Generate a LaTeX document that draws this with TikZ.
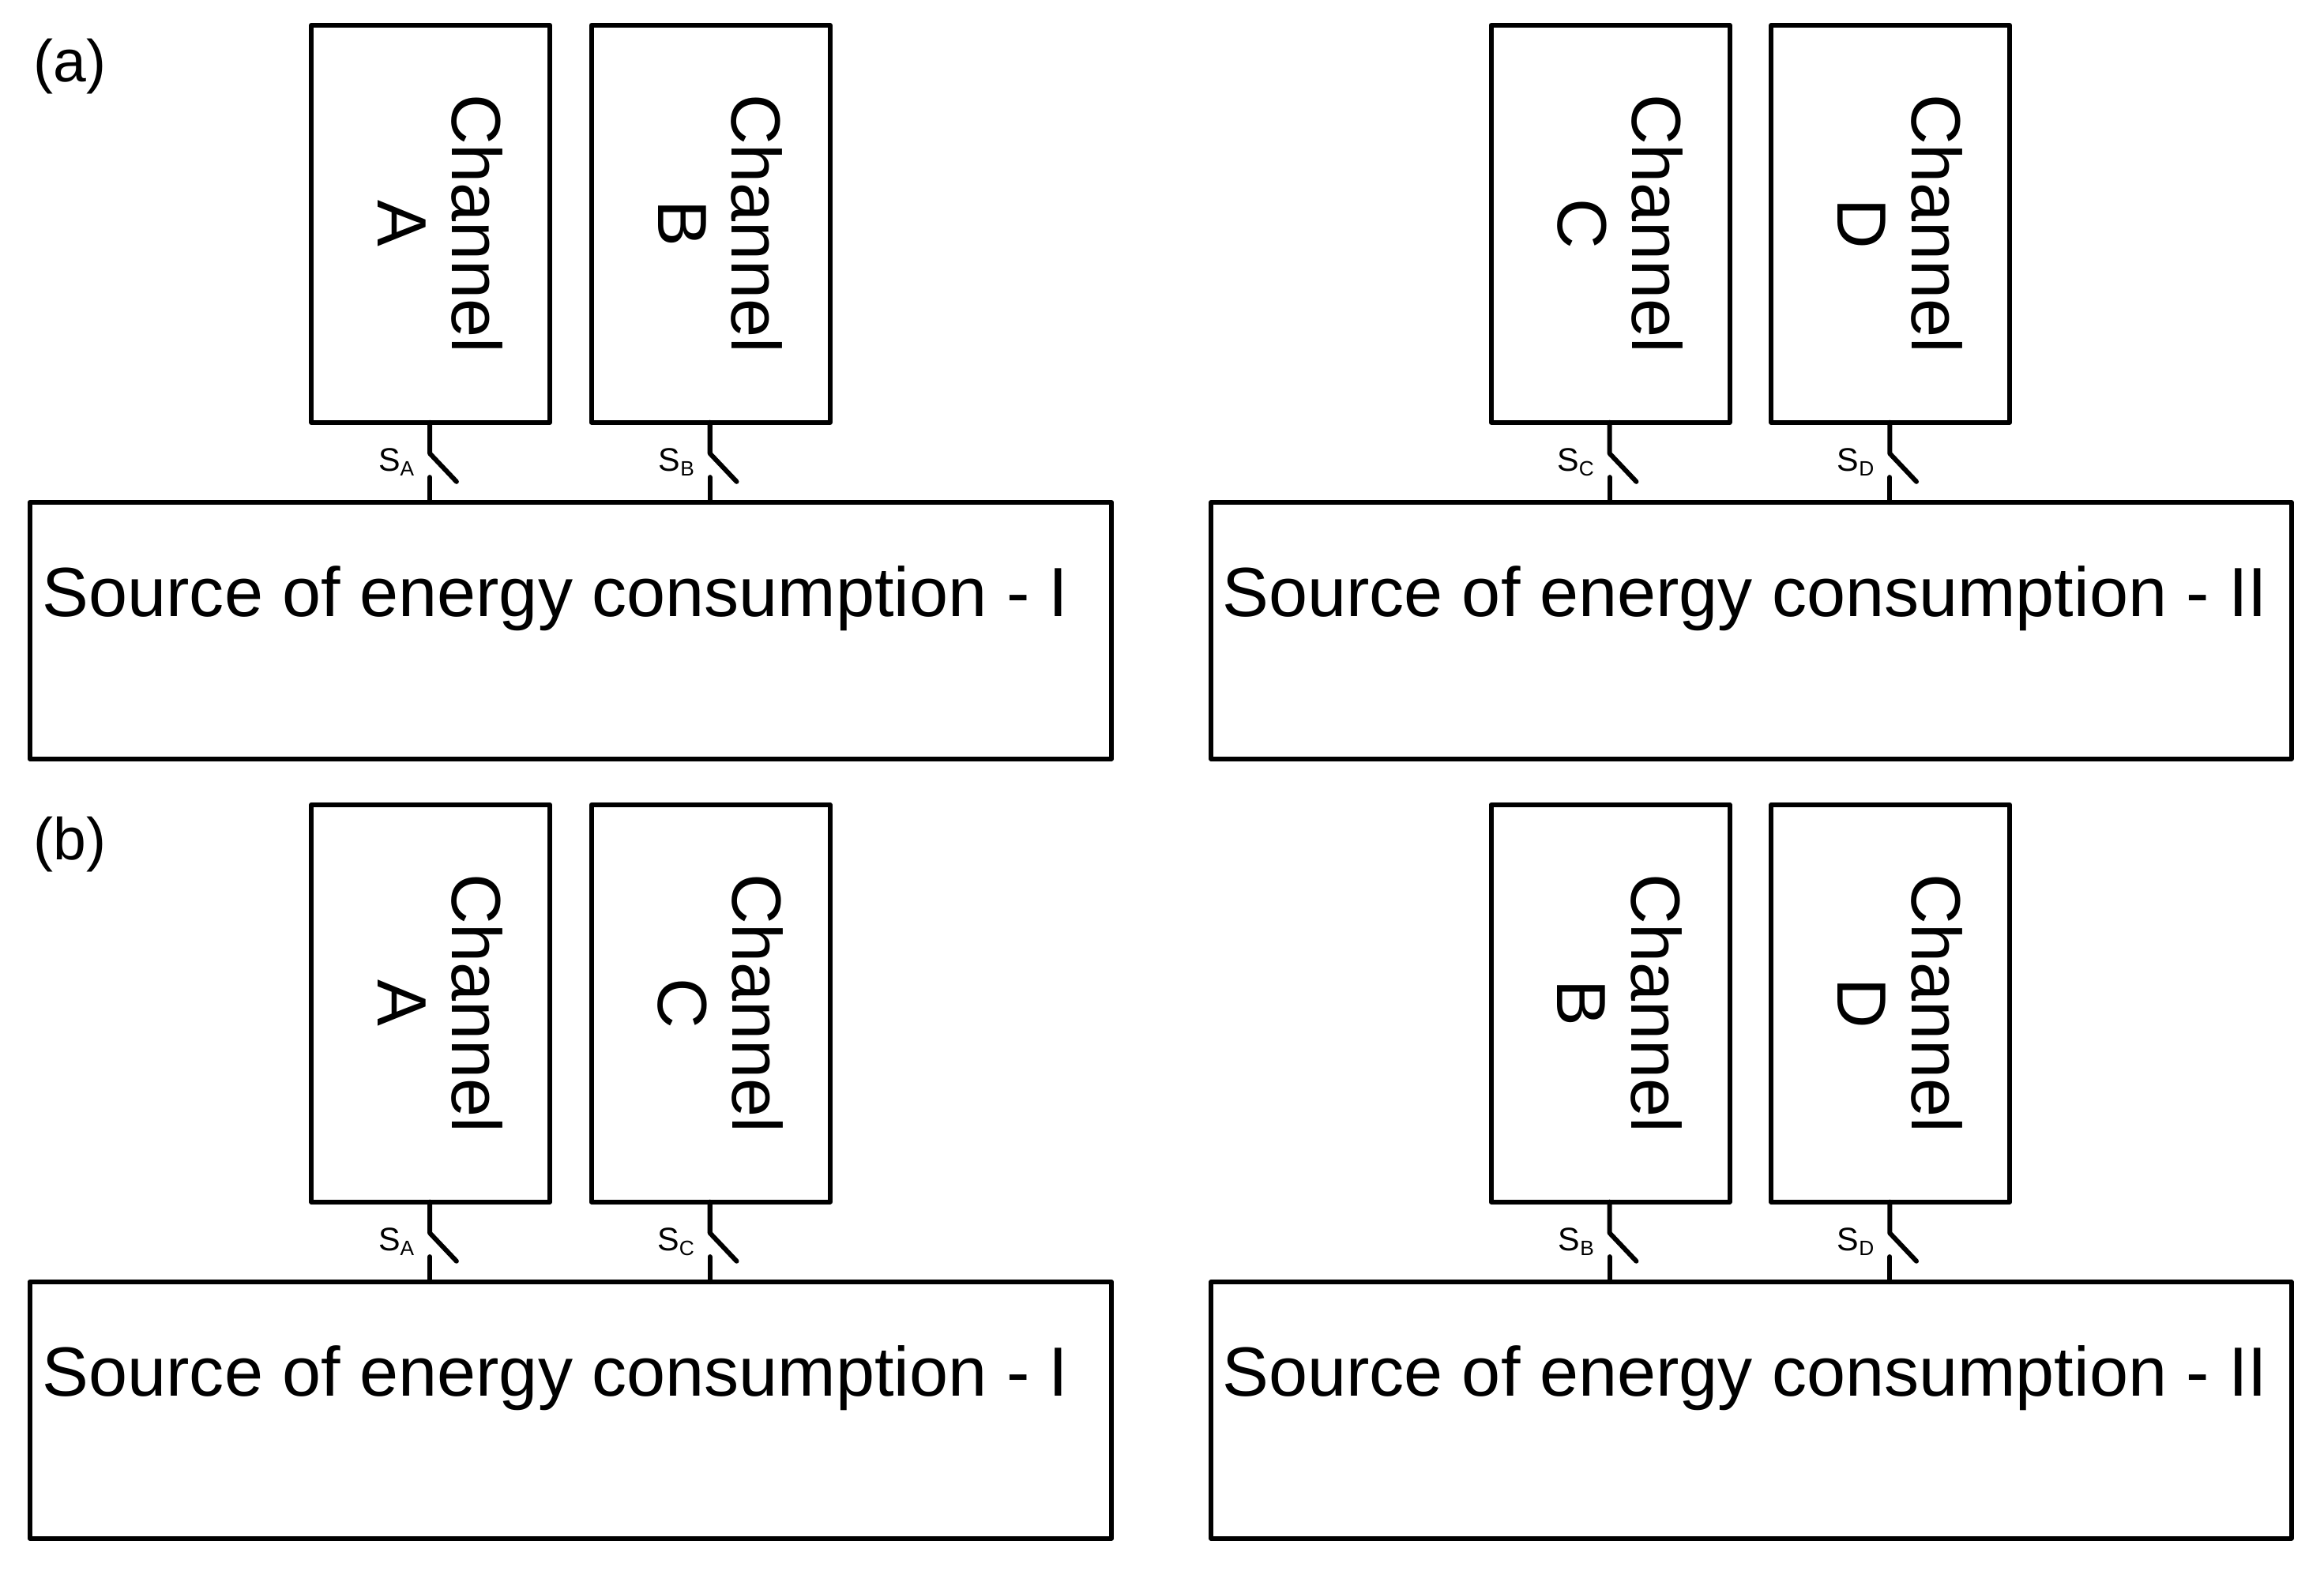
\documentclass[tikz,border=0pt]{standalone}
\usepackage{fontspec}
\setmainfont{Liberation Sans}
\begin{document}
\begin{tikzpicture}[x=0.5pt,y=-0.5pt,line width=1.6pt,line cap=round,line join=round,
 box/.style={draw,line width=1.6pt},
 chtxt/.style={rotate=-90,font=\fontsize{23.5}{25}\selectfont,align=center,inner sep=0pt},
 srctxt/.style={anchor=west,font=\fontsize{23.5}{25}\selectfont,inner sep=0pt},
 swlbl/.style={font=\fontsize{11}{12}\selectfont,inner sep=0pt},
 panel/.style={font=\fontsize{20}{22}\selectfont,inner sep=0pt}]
\useasboundingbox (0,0) rectangle (1568,1060);
\newcommand{\myrow}[6]{%
 \begin{scope}[yshift=-#1*0.5pt]
 \draw[box] (210,17) rectangle (371,285);
 \draw[box] (399,17) rectangle (560,285);
 \draw[box] (1006,17) rectangle (1167,285);
 \draw[box] (1195,17) rectangle (1356,285);
 \node[chtxt] (#6c1) at (297,151) {Channel\\#2};
 \node[chtxt] (#6c2) at (486,151) {Channel\\#3};
 \node[chtxt] (#6c3) at (1093,151) {Channel\\#4};
 \node[chtxt] (#6c4) at (1282,151) {Channel\\#5};
 \draw[box] (20,339) rectangle (750,512);
 \draw[box] (817,339) rectangle (1546,512);
 \node[srctxt] (#6s1) at (27,404) {Source of energy consumption - I};
 \node[srctxt] (#6s2) at (823,404) {Source of energy consumption - II};
 \foreach \x/\l in {290/#2,479/#3,1086/#4,1275/#5}{
  \draw (\x,285) -- (\x,306) -- (\x+18,325);
  \draw (\x,322) -- (\x,339);
  \node[swlbl,anchor=east] at (\x-8,312) {S\textsubscript{\scriptsize\l}};
 }
 \end{scope}}
\myrow{0}{A}{B}{C}{D}{ra}
\myrow{526}{A}{C}{B}{D}{rb}
\node[panel] (pa) at (47,45) {(a)};
\node[panel] (pb) at (47,570) {(b)};
\end{tikzpicture}
\end{document}
